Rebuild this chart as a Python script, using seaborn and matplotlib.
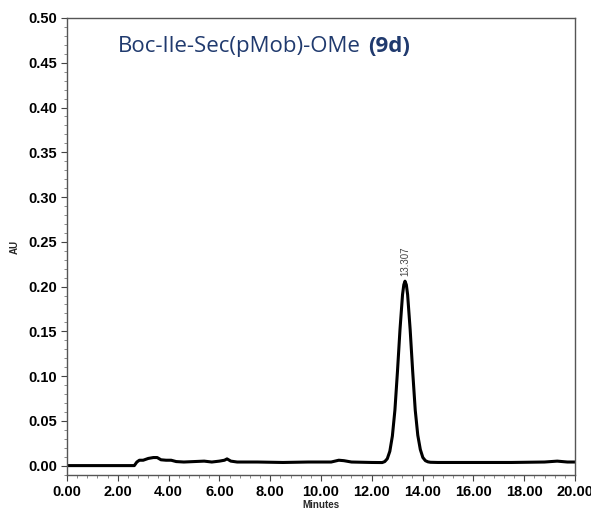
import numpy as np
import pandas as pd
import matplotlib
matplotlib.use("Agg")
import matplotlib.pyplot as plt
from matplotlib.ticker import MultipleLocator
import seaborn as sns

# chromatogram trace (minutes, AU)
minutes = [0.0, 2.65, 2.75, 2.85, 3.0, 3.2, 3.4, 3.55, 3.7, 3.9, 4.1, 4.3, 4.6,
           5.0, 5.4, 5.7, 6.0, 6.2, 6.3, 6.45, 6.7, 7.5, 8.5, 9.5, 10.4, 10.7,
           10.9, 11.2, 12.0, 12.41, 12.51, 12.61, 12.71, 12.81, 12.91, 13.01,
           13.11, 13.21, 13.26, 13.307, 13.36, 13.41, 13.51, 13.61, 13.71,
           13.81, 13.91, 14.01, 14.11, 14.21, 14.31, 14.6, 16.0, 17.5, 18.8,
           19.3, 19.7, 20.0]
au = [0.0, 0.0, 0.004, 0.006, 0.006, 0.008, 0.009, 0.009, 0.0065, 0.006, 0.006,
      0.0045, 0.004, 0.0045, 0.005, 0.004, 0.005, 0.006, 0.0075, 0.005, 0.004,
      0.004, 0.0035, 0.004, 0.004, 0.006, 0.0055, 0.004, 0.0035,
      0.0034, 0.0045, 0.0077, 0.016, 0.033, 0.062, 0.105, 0.152, 0.191, 0.202,
      0.206, 0.202, 0.191, 0.152, 0.105, 0.062, 0.034, 0.018, 0.009, 0.0055,
      0.0042, 0.0037, 0.0035, 0.0035, 0.0035, 0.004, 0.005, 0.004, 0.004]
peak_time = 13.307
peak_label = "13.307"
xticks = [0, 2, 4, 6, 8, 10, 12, 14, 16, 18, 20]
yticks = [0.00, 0.05, 0.10, 0.15, 0.20, 0.25, 0.30, 0.35, 0.40, 0.45, 0.50]
title_main = "Boc-Ile-Sec(pMob)-OMe"
title_bold = "(9d)"

df = pd.DataFrame({"Minutes": minutes, "AU": au})

sns.set_theme(style="ticks")
plt.rcParams["font.family"] = ["Liberation Sans", "DejaVu Sans"]

fig = plt.figure(figsize=(5.91, 5.11), dpi=100)
ax = fig.add_axes([67/591, 1 - 475/511, (575 - 67)/591, (475 - 18)/511])

sns.lineplot(data=df, x="Minutes", y="AU", ax=ax, color="black", lw=2.2,
             estimator=None, sort=False)

ax.set_xlim(0, 20)
ax.set_ylim(-0.0105, 0.50)
ax.set_xticks(xticks)
ax.set_xticklabels([f"{v:.2f}" for v in xticks])
ax.set_yticks(yticks)
ax.set_yticklabels([f"{v:.2f}" for v in yticks])
ax.xaxis.set_minor_locator(MultipleLocator(0.4))
ax.yaxis.set_minor_locator(MultipleLocator(0.01))
ax.tick_params(axis="both", which="major", labelsize=10.5, length=4,
               width=0.8, colors="#444444", labelcolor="black", pad=3)
ax.tick_params(axis="both", which="minor", length=2, width=0.6, colors="#777777")
for lab in ax.get_xticklabels() + ax.get_yticklabels():
    lab.set_fontweight("bold")
for sp in ax.spines.values():
    sp.set_visible(True)
    sp.set_color("#555555")
    sp.set_linewidth(1.0)

ax.set_xlabel("Minutes", fontsize=7, fontweight="bold", labelpad=1)
ax.set_ylabel("AU", fontsize=7, fontweight="bold", labelpad=6)

pk = au[minutes.index(peak_time)]
ax.text(peak_time, pk + 0.006, peak_label, rotation=90, ha="center",
        va="bottom", fontsize=7, color="#444444")

title_color = "#203a6e"
t1 = ax.text(0.10, 0.937, title_main, transform=ax.transAxes, fontsize=16,
             color=title_color, family=["Open Sans", "DejaVu Sans"], va="center")
fig.canvas.draw()
bb = t1.get_window_extent()
x_end = ax.transAxes.inverted().transform((bb.x1 + 7, bb.y0))[0]
ax.text(x_end, 0.937, title_bold, transform=ax.transAxes, fontsize=16,
        color=title_color, fontweight="bold", family=["Open Sans", "DejaVu Sans"],
        va="center")

fig.savefig("out.png", dpi=100)
